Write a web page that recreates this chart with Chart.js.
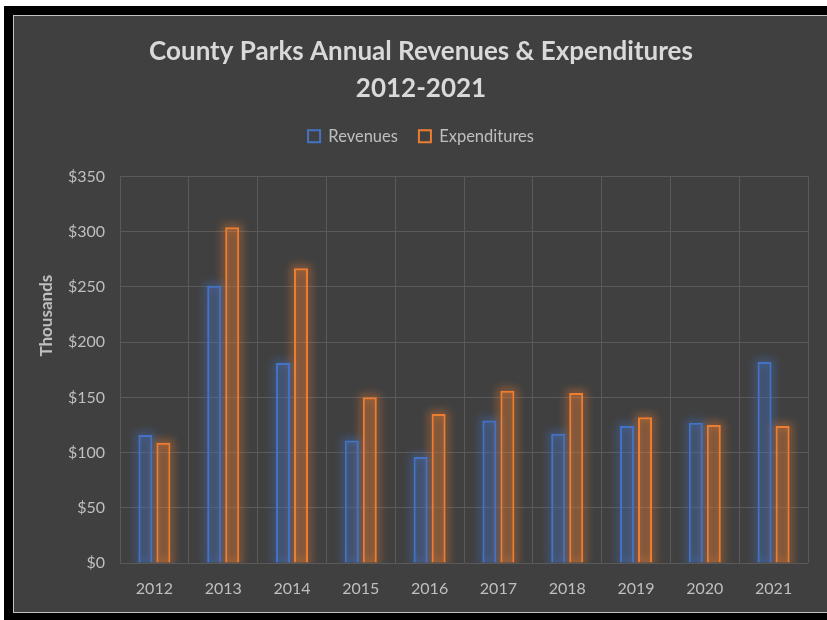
<!DOCTYPE html>
<html>
<head>
<meta charset="utf-8">
<script src="https://cdn.jsdelivr.net/npm/chart.js@4"></script>
<style>
  html, body { margin: 0; padding: 0; background: #ffffff; width: 827px; height: 620px; overflow: hidden; }
  #frame { position: absolute; left: 4px; top: 6px; width: 823px; height: 614px; background: #000000; }
  #box { position: absolute; left: 13px; top: 15px; width: 830px; height: 596px;
         background: #404040; border-left: 1px solid #c4c4c4; border-top: 1px solid #c4c4c4; border-bottom: 1px solid #c4c4c4; }
  #c { position: absolute; left: 0; top: 0; }
</style>
</head>
<body>
<div id="frame"></div>
<div id="box"><canvas id="c" width="813" height="596"></canvas></div>
<script>
const categories = ['2012', '2013', '2014', '2015', '2016', '2017', '2018', '2019', '2020', '2021'];
const revenues = [116, 251, 181, 111, 96, 129, 117, 124, 127, 182];
const expenditures = [109, 304, 267, 150, 135, 156, 154, 132, 125, 124];
const yTickValues = [0, 50, 100, 150, 200, 250, 300, 350];
const titleLines = ['County Parks Annual Revenues & Expenditures', '2012-2021'];
const yAxisTitle = 'Thousands';

const FONT = 'Lato, "Open Sans", sans-serif';
const TICK_COLOR = '#bfbfbf';
const GRID_COLOR = '#5a5a5a';

const glowPlugin = {
  id: 'glow',
  beforeDatasetsDraw(chart) {
    const ctx = chart.ctx;
    const area = chart.chartArea;
    ctx.save();
    ctx.beginPath();
    ctx.rect(area.left, area.top - 20, area.right - area.left, area.bottom - area.top + 20);
    ctx.clip();
    chart.data.datasets.forEach((ds, i) => {
      const meta = chart.getDatasetMeta(i);
      ctx.save();
      ctx.filter = 'blur(4px)';
      ctx.strokeStyle = ds.glowColor;
      ctx.lineWidth = 5;
      meta.data.forEach(el => {
        const p = el.getProps(['x', 'y', 'base', 'width'], true);
        ctx.strokeRect(p.x - p.width / 2, p.y, p.width, p.base - p.y);
      });
      ctx.restore();
    });
    ctx.restore();
  }
};

const yTitlePlugin = {
  id: 'yTitle',
  afterDraw(chart) {
    const ctx = chart.ctx;
    const area = chart.chartArea;
    ctx.save();
    ctx.translate(33, area.top + (area.bottom - area.top) * 0.36);
    ctx.rotate(-Math.PI / 2);
    ctx.font = 'bold 17px ' + FONT;
    ctx.fillStyle = TICK_COLOR;
    ctx.textAlign = 'center';
    ctx.textBaseline = 'middle';
    ctx.fillText(yAxisTitle, 0, 0);
    ctx.restore();
  }
};

new Chart(document.getElementById('c'), {
  type: 'bar',
  data: {
    labels: categories,
    datasets: [
      {
        label: 'Revenues',
        data: revenues,
        backgroundColor: 'rgba(68,114,196,0.26)',
        borderColor: '#4472c4',
        borderWidth: 2,
        glowColor: 'rgba(68,114,196,0.55)',
        categoryPercentage: 0.523,
        barPercentage: 0.78
      },
      {
        label: 'Expenditures',
        data: expenditures,
        backgroundColor: 'rgba(237,125,49,0.28)',
        borderColor: '#ed7d31',
        borderWidth: 2,
        glowColor: 'rgba(237,125,49,0.55)',
        categoryPercentage: 0.523,
        barPercentage: 0.78
      }
    ]
  },
  options: {
    responsive: false,
    devicePixelRatio: 1,
    animation: false,
    layout: { padding: { left: 20, right: 19, top: 0, bottom: 0 } },
    plugins: {
      title: {
        display: true,
        text: titleLines,
        color: '#d9d9d9',
        font: { family: FONT, size: 26, weight: 'bold', lineHeight: 37 / 26 },
        padding: { top: 17, bottom: 0 }
      },
      subtitle: {
        display: true,
        text: '',
        weight: 500,
        font: { size: 10, lineHeight: 1 },
        padding: { top: 0, bottom: 12 }
      },
      legend: {
        display: true,
        position: 'top',
        labels: {
          color: TICK_COLOR,
          font: { family: FONT, size: 16.5 },
          boxWidth: 12,
          boxHeight: 12,
          padding: 21,
          generateLabels(chart) {
            const items = Chart.defaults.plugins.legend.labels.generateLabels(chart);
            items.forEach(it => { it.fillStyle = 'rgba(0,0,0,0)'; it.lineWidth = 2; });
            return items;
          }
        }
      },
      tooltip: { enabled: false }
    },
    scales: {
      x: {
        grid: { color: GRID_COLOR, lineWidth: 1, drawTicks: false },
        border: { display: false },
        ticks: { color: TICK_COLOR, font: { family: FONT, size: 16 }, padding: 16 },
        afterFit(scale) { scale.height = 49; }
      },
      y: {
        min: 0,
        max: 350,
        grid: { color: GRID_COLOR, lineWidth: 1, drawTicks: false },
        border: { display: true, color: GRID_COLOR },
        afterBuildTicks(scale) { scale.ticks = yTickValues.map(v => ({ value: v })); },
        ticks: {
          color: TICK_COLOR,
          font: { family: FONT, size: 16 },
          padding: 15,
          callback: v => '$' + v
        },
        afterFit(scale) { scale.width = 86; }
      }
    }
  },
  plugins: [glowPlugin, yTitlePlugin]
});
</script>
</body>
</html>
